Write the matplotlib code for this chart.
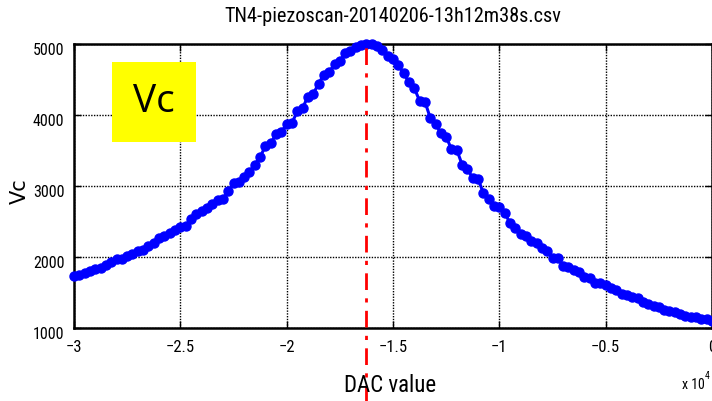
import numpy as np
import matplotlib
matplotlib.use("Agg")
import matplotlib.pyplot as plt
from matplotlib.transforms import ScaledTranslation
from matplotlib import font_manager

# ---- data ----
dac_start, dac_stop, dac_step = -30000, 0, 250
vc = [1730, 1745, 1780, 1800, 1830, 1845, 1890, 1930, 1965, 1975,
      2010, 2040, 2080, 2100, 2150, 2200, 2270, 2300, 2340, 2380,
      2420, 2440, 2530, 2600, 2650, 2690, 2740, 2800, 2810, 2930,
      3040, 3060, 3120, 3200, 3300, 3410, 3560, 3600, 3730, 3760,
      3870, 3890, 4050, 4100, 4260, 4300, 4440, 4570, 4600, 4720,
      4760, 4870, 4900, 4960, 4985, 5000, 4995, 4970, 4920, 4830,
      4790, 4700, 4590, 4460, 4380, 4200, 4190, 3960, 3880, 3740,
      3690, 3520, 3510, 3300, 3240, 3110, 3100, 2900, 2820, 2720,
      2710, 2620, 2480, 2410, 2330, 2300, 2220, 2200, 2120, 2090,
      1990, 1980, 1880, 1860, 1810, 1790, 1720, 1700, 1640, 1630,
      1610, 1560, 1540, 1480, 1460, 1440, 1420, 1360, 1340, 1310,
      1290, 1260, 1240, 1220, 1200, 1170, 1160, 1150, 1130, 1120,
      1100]
dac = np.arange(dac_start, dac_stop + 1, dac_step)[:len(vc)]
peak_dac = -16260

title = "TN4-piezoscan-20140206-13h12m38s.csv"
xticks = [-30000, -25000, -20000, -15000, -10000, -5000, 0]
xticklabels = ["\u22123", "\u22122.5", "\u22122", "\u22121.5", "\u22121", "\u22120.5", "0"]
yticks = [1000, 2000, 3000, 4000, 5000]

# pick a narrow font if one is installed
names = {f.name for f in font_manager.fontManager.ttflist}
narrow_fp = None
for cand in ["Liberation Sans Narrow", "Roboto Condensed", "Open Sans Condensed",
             "DejaVu Sans Condensed"]:
    if cand in names:
        narrow_fp = dict(family=[cand, "DejaVu Sans"])
        break
if narrow_fp is None:
    narrow_fp = dict(family=["DejaVu Sans"], stretch="condensed")

fig = plt.figure(figsize=(7.12, 4.01), dpi=100)
ax = fig.add_axes([74/712, 1 - 328/401, 638/712, 284/401])

ax.plot(dac, vc, color="#0000ff", lw=2.2, marker="o", ms=6.5, mec="#0000ff",
        mfc="#0000ff", zorder=3, clip_on=False)
ax.axvline(peak_dac, ymin=-0.26, ymax=1.0, color="#ff0000", lw=2,
           linestyle=(0, (6, 3, 1.5, 3)), clip_on=False, zorder=4)

ax.set_xlim(-30000, 0)
ax.set_ylim(1000, 5000)
ax.set_xticks(xticks)
ax.set_xticklabels(xticklabels, fontsize=12, **narrow_fp)
ax.set_yticks(yticks)
ax.set_yticklabels([str(v) for v in yticks], fontsize=11.5, **narrow_fp)

ax.grid(True, color="black", linestyle=(0, (1, 1)), lw=1)
ax.tick_params(direction="in", length=5, width=1, top=True, right=True)
ax.tick_params(axis="x", pad=9)
ax.tick_params(axis="y", pad=7)
for lbl in ax.get_yticklabels():
    lbl.set_transform(lbl.get_transform() + ScaledTranslation(0, -5/100, fig.dpi_scale_trans))
for s in ax.spines.values():
    s.set_linewidth(1.8)
    s.set_color("black")

ax.set_title(title, fontsize=14.6, pad=16, **narrow_fp)
fig.text(390/712, 1 - 385/401, "DAC value", fontsize=16.5,
         ha="center", va="center", **narrow_fp)
fig.text(20/712, 1 - 191/401, "Vc", family="DejaVu Sans", fontsize=15,
         rotation=90, ha="center", va="center")
fig.text(682/712, 1 - 385/401, "x 10", fontsize=10,
         ha="left", va="center", **narrow_fp)
fig.text(705/712, 1 - 376/401, "4", fontsize=7,
         ha="left", va="center", **narrow_fp)

# yellow label box
fig.text(154/712, 1 - 102/401, "Vc", family=["Open Sans", "DejaVu Sans"],
         fontsize=28, ha="center", va="center",
         bbox=dict(boxstyle="square,pad=0.55", fc="#ffff00", ec="none"))

fig.savefig("out.png", dpi=100)
